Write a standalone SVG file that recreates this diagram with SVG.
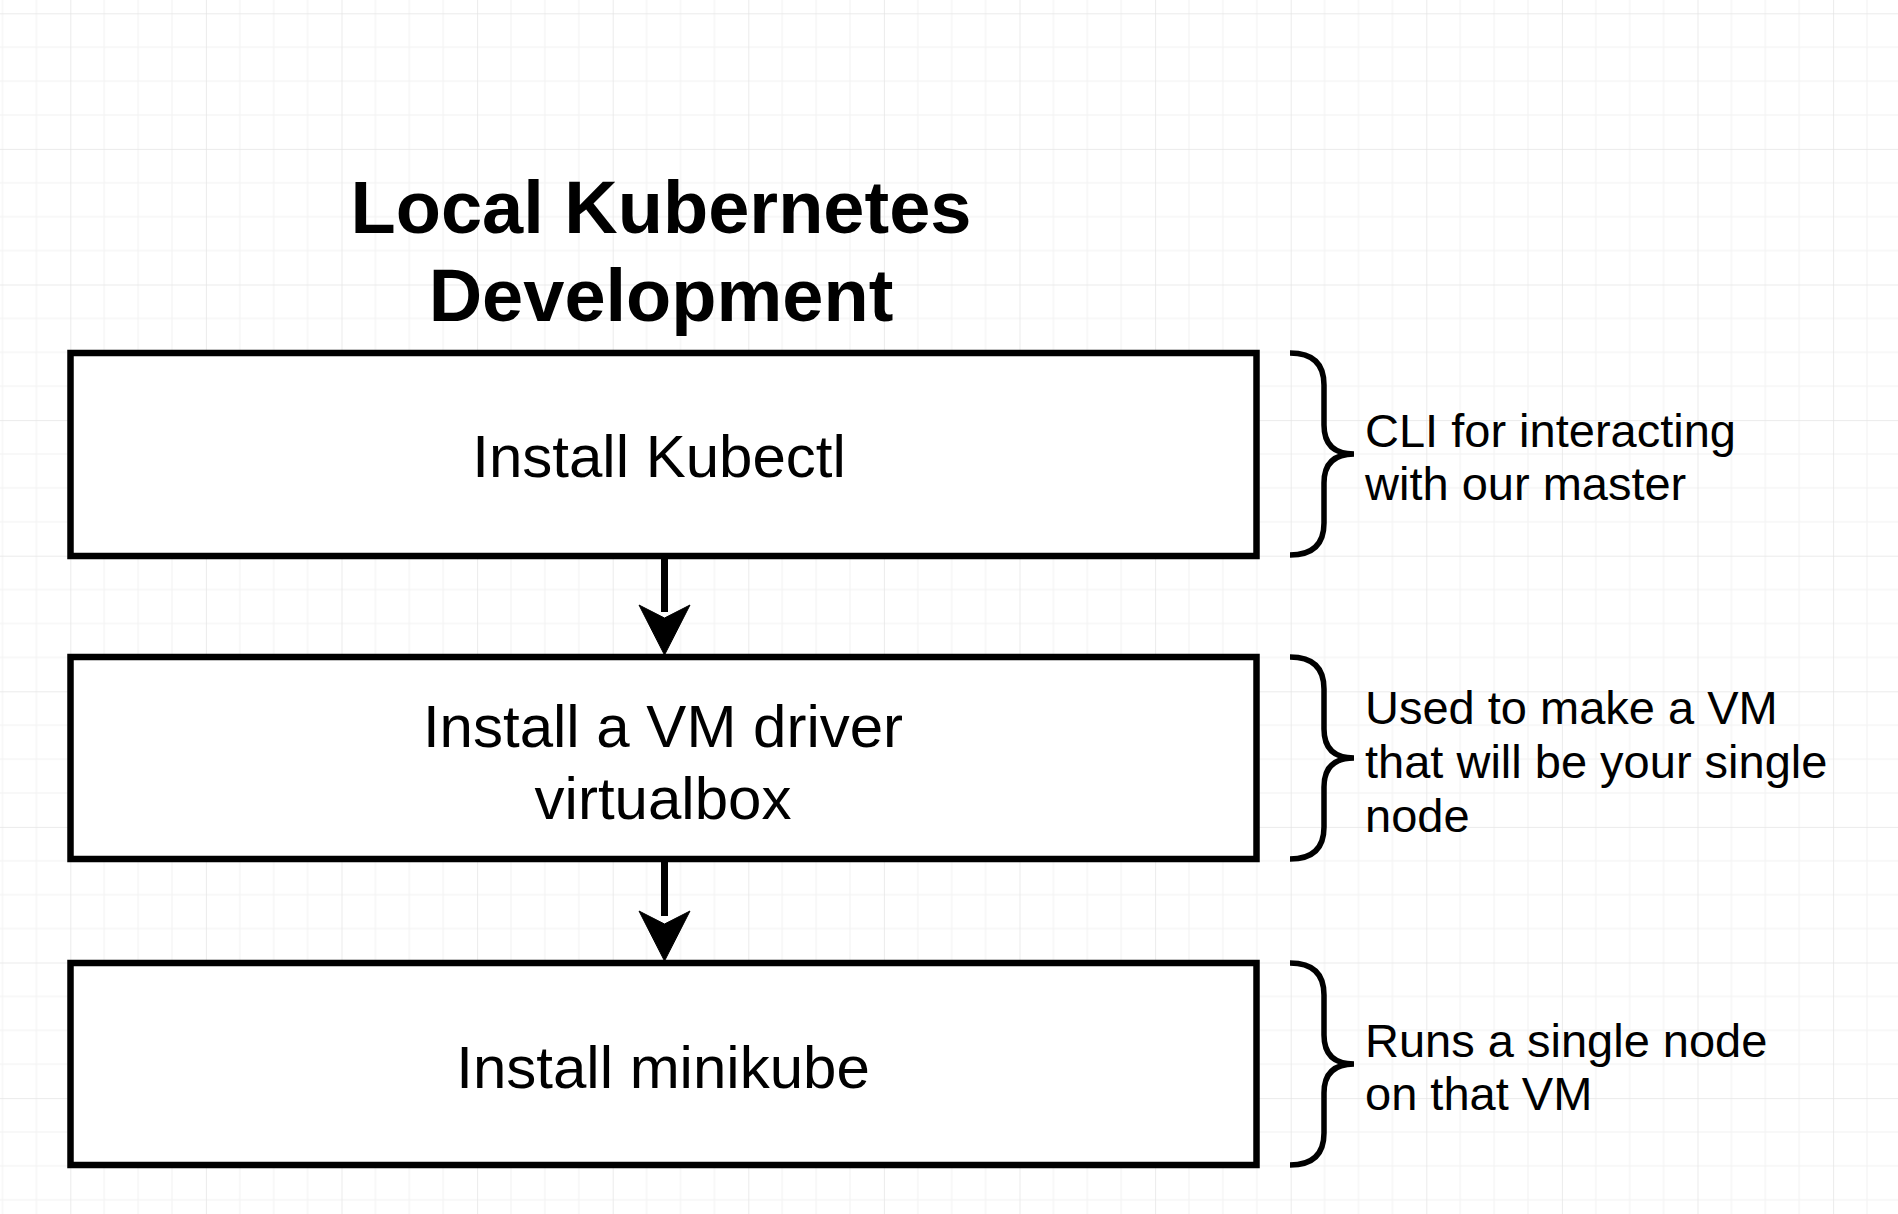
<svg xmlns="http://www.w3.org/2000/svg" xmlns:xlink="http://www.w3.org/1999/xlink" width="1898" height="1214" viewBox="0 0 1898 1214">
  <style>
    .box { fill: #ffffff; stroke: #000000; stroke-width: 6.5; }
    .brace { fill: none; stroke: #000000; stroke-width: 5.5; stroke-linecap: butt; stroke-linejoin: round; }
    .edge { fill: none; stroke: #000000; stroke-width: 7; }
    .head { fill: #000000; stroke: #000000; stroke-width: 1; stroke-linejoin: miter; }
    .title { font-family: "Liberation Sans", Arial, Helvetica, sans-serif; font-weight: bold; font-size: 74px; fill: #000; text-anchor: middle; }
    .label { font-family: "Liberation Sans", Arial, Helvetica, sans-serif; font-size: 60px; fill: #000; text-anchor: middle; }
    .note { font-family: "Liberation Sans", Arial, Helvetica, sans-serif; font-size: 47px; fill: #000; }
  </style>
  <defs>
    <pattern id="grid" patternUnits="userSpaceOnUse" x="70.3" y="13.3" width="135.6" height="135.6">
      <path d="M33.9,0 V135.6 M67.8,0 V135.6 M101.7,0 V135.6 M0,33.9 H135.6 M0,67.8 H135.6 M0,101.7 H135.6" fill="none" stroke="#f2f2f2" stroke-width="1"/>
      <path d="M0,0 V135.6 M0,0 H135.6" fill="none" stroke="#e5e5e5" stroke-width="1.5"/>
    </pattern>
    <path id="bracePath" d="M1290,0 Q1324,0 1324,32 L1324,72 Q1324,101 1354,101 M1354,101 Q1324,101 1324,130 L1324,170 Q1324,202 1290,202"/>
  </defs>

  <rect x="0" y="0" width="1898" height="1214" fill="#ffffff"/>
  <rect x="0" y="0" width="1898" height="1214" fill="url(#grid)"/>

  <g id="title">
    <text class="title" x="661" y="233">Local Kubernetes</text>
    <text class="title" x="661" y="321">Development</text>
  </g>

  <g id="connectors">
    <line class="edge" x1="664.5" y1="556" x2="664.5" y2="612"/>
    <polygon class="head" points="664.5,655 639,605 664.5,618 690,605"/>
    <line class="edge" x1="664.5" y1="859" x2="664.5" y2="916"/>
    <polygon class="head" points="664.5,961 639,911 664.5,924 690,911"/>
  </g>

  <g id="node-kubectl">
    <rect class="box" x="70.5" y="353" width="1186" height="203"/>
    <text class="label" x="659" y="477">Install Kubectl</text>
  </g>

  <g id="node-vmdriver">
    <rect class="box" x="70.5" y="657" width="1186" height="202"/>
    <text class="label" x="663" y="747">Install a VM driver</text>
    <text class="label" x="663" y="819">virtualbox</text>
  </g>

  <g id="node-minikube">
    <rect class="box" x="70.5" y="963" width="1186" height="202"/>
    <text class="label" x="663" y="1088">Install minikube</text>
  </g>

  <g id="note-kubectl">
    <use xlink:href="#bracePath" class="brace" transform="translate(0,353)"/>
    <text class="note" x="1365" y="447">CLI for interacting</text>
    <text class="note" x="1365" y="500">with our master</text>
  </g>

  <g id="note-vmdriver">
    <use xlink:href="#bracePath" class="brace" transform="translate(0,657)"/>
    <text class="note" x="1365" y="724">Used to make a VM</text>
    <text class="note" x="1365" y="778">that will be your single</text>
    <text class="note" x="1365" y="832">node</text>
  </g>

  <g id="note-minikube">
    <use xlink:href="#bracePath" class="brace" transform="translate(0,963)"/>
    <text class="note" x="1365" y="1057">Runs a single node</text>
    <text class="note" x="1365" y="1110">on that VM</text>
  </g>
</svg>
